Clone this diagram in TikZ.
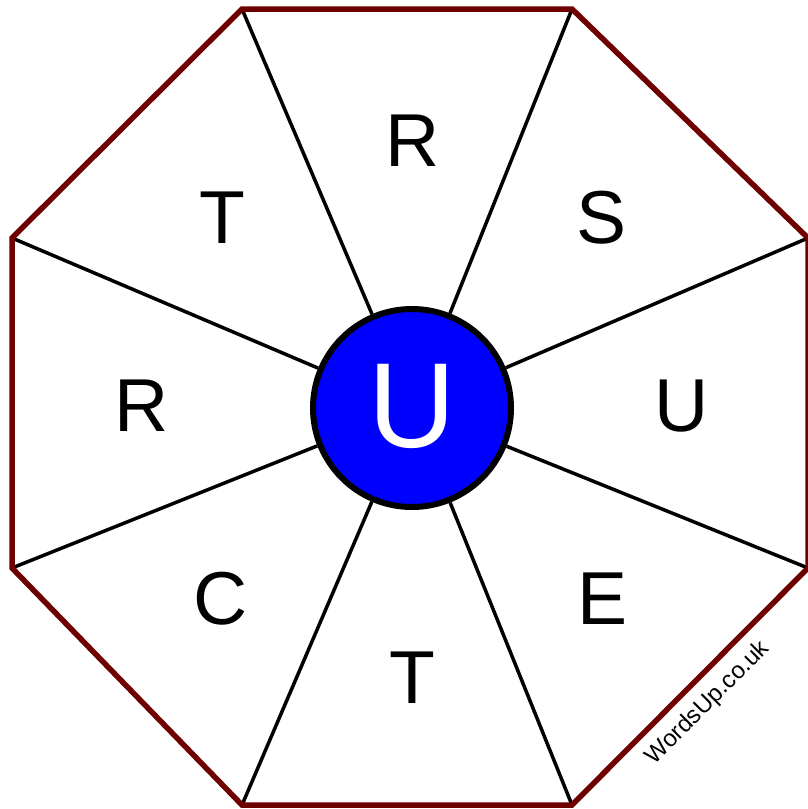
\documentclass[tikz,border=0pt]{standalone}
\usepackage{fontspec}
\setmainfont{Liberation Sans}
\definecolor{rim}{RGB}{110,0,0}
\definecolor{hub}{RGB}{0,0,255}
\tikzset{
  letter/.style={font=\fontsize{75}{75}\selectfont, inner sep=0pt, text height=54pt, text depth=0pt, anchor=center},
  spoke/.style={draw=black, line width=3.5pt},
  rimline/.style={draw=rim, line width=5.5pt, line join=miter},
}
\begin{document}
\begin{tikzpicture}[x=1pt,y=-1pt]
\useasboundingbox (0,0) rectangle (807,809);
\coordinate (v1) at (242,9);
\coordinate (v2) at (572,9);
\coordinate (v3) at (808,238);
\coordinate (v4) at (808,568);
\coordinate (v5) at (572,805);
\coordinate (v6) at (242,805);
\coordinate (v7) at (12,568);
\coordinate (v8) at (12,238);
\node[circle, minimum size=198pt, fill=hub, draw=black, line width=6pt, inner sep=0pt] (c) at (412,408) {};
\foreach \v in {v1,v2,v3,v4,v5,v6,v7,v8} \draw[spoke] (\v) -- (c);
\draw[rimline] (v1) -- (v2) -- (v3) -- (v4) -- (v5) -- (v6) -- (v7) -- (v8) -- cycle;
\node[font=\fontsize{121}{121}\selectfont, inner sep=0pt, text height=87pt, text depth=0pt, text=white] (cu) at (412,404) {U};
\node[letter] (l1) at (413,139) {R};
\node[letter] (l2) at (602,216) {S};
\node[letter] (l3) at (682,404) {U};
\node[letter] (l4) at (603,597) {E};
\node[letter] (l5) at (412,676) {T};
\node[letter] (l6) at (221,597) {C};
\node[letter] (l7) at (142,404) {R};
\node[letter] (l8) at (222,216) {T};
\node[font=\fontsize{24}{24}\selectfont, rotate=45, inner sep=0pt] (wm) at (708,703) {WordsUp.co.uk};
\end{tikzpicture}
\end{document}
